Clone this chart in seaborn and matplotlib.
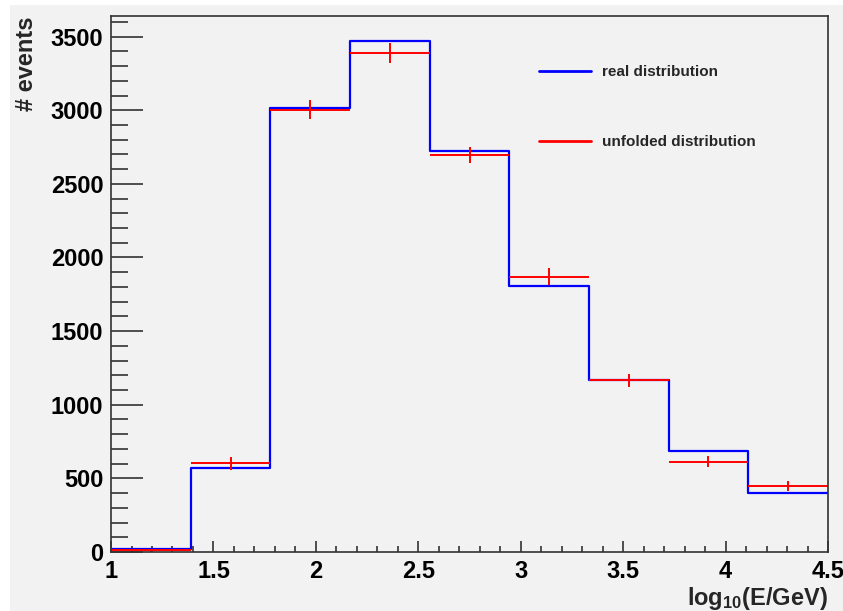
import numpy as np
import pandas as pd
import seaborn as sns
import matplotlib.pyplot as plt
from matplotlib.lines import Line2D
from matplotlib.patches import Rectangle

# bin edges in log10(E/GeV), 9 equal bins from 1 to 4.5
bin_edges = np.linspace(1.0, 4.5, 10)
bin_centers = 0.5 * (bin_edges[:-1] + bin_edges[1:])

real_counts = [20, 568, 3014, 3470, 2722, 1805, 1166, 688, 398]
unfolded_counts = [12, 601, 3005, 3388, 2696, 1870, 1165, 614, 448]
unfolded_err = [10, 42, 63, 68, 51, 56, 44, 37, 34]

# step outline for the real distribution (last value repeated to close the last bin)
step_df = pd.DataFrame({"logE": bin_edges, "real": real_counts + real_counts[-1:]})
unf_df = pd.DataFrame({"logE": bin_centers, "unfolded": unfolded_counts, "err": unfolded_err})

sns.set_theme(style="ticks")
plt.rcParams["font.family"] = ["Liberation Sans", "DejaVu Sans"]
plt.rcParams["font.weight"] = "bold"
plt.rcParams["mathtext.fontset"] = "custom"
plt.rcParams["mathtext.rm"] = "Liberation Sans:bold"
plt.rcParams["mathtext.it"] = "Liberation Sans:bold"
plt.rcParams["mathtext.bf"] = "Liberation Sans:bold"

bg = "#f2f2f2"
fig = plt.figure(figsize=(8.43, 6.11), dpi=100, facecolor="white")
# grey canvas, with the thin white margin at top and left like the original
fig.patches.append(Rectangle((10 / 843, 0), 1 - 10 / 843, 1 - 5 / 611,
                             transform=fig.transFigure, facecolor=bg,
                             edgecolor="none", zorder=-10))
ax = fig.add_axes([0.1317, 0.0966, 0.8505, 0.8772], facecolor=bg)

sns.lineplot(data=step_df, x="logE", y="real", drawstyle="steps-post",
             color="blue", linewidth=1.6, ax=ax)
ax.errorbar(unf_df["logE"], unf_df["unfolded"], xerr=(bin_edges[1] - bin_edges[0]) / 2,
            yerr=unf_df["err"], fmt="none", ecolor="red", elinewidth=1.4)

ax.set_xlim(1, 4.5)
ax.set_ylim(0, 3640)
ax.set_xticks(np.arange(1, 4.51, 0.5))
ax.set_xticklabels(["1", "1.5", "2", "2.5", "3", "3.5", "4", "4.5"])
ax.set_xticks(np.arange(1, 4.51, 0.1), minor=True)
ax.set_yticks(np.arange(0, 3501, 500))
ax.set_yticks(np.arange(0, 3601, 100), minor=True)

ax.tick_params(axis="both", which="both", direction="in", labelsize=17,
               colors="#333333", labelcolor="black", width=1.2)
ax.tick_params(axis="y", which="major", length=23, pad=5.5)
ax.tick_params(axis="y", which="minor", length=12)
ax.tick_params(axis="x", which="major", length=8, pad=6)
ax.tick_params(axis="x", which="minor", length=4.3)
for s in ax.spines.values():
    s.set_color("#333333")
    s.set_linewidth(1.2)

ax.set_xlabel("log$_{10}$(E/GeV)", fontsize=17, fontweight="bold", loc="right", labelpad=1)
ax.set_ylabel("# events", fontsize=17, fontweight="bold", loc="top", labelpad=9)

handles = [Line2D([], [], color="blue", lw=2), Line2D([], [], color="red", lw=2)]
leg = ax.legend(handles, ["real distribution", "unfolded distribution"],
                loc="upper left", bbox_to_anchor=(0.6394, 0.893),
                bbox_transform=fig.transFigure, frameon=False, fontsize=11,
                handlelength=3.4, handletextpad=0.75, labelspacing=3.65,
                borderpad=0, borderaxespad=0)
for t in leg.get_texts():
    t.set_fontweight("bold")

fig.savefig("out.png", dpi=100, facecolor="white")
